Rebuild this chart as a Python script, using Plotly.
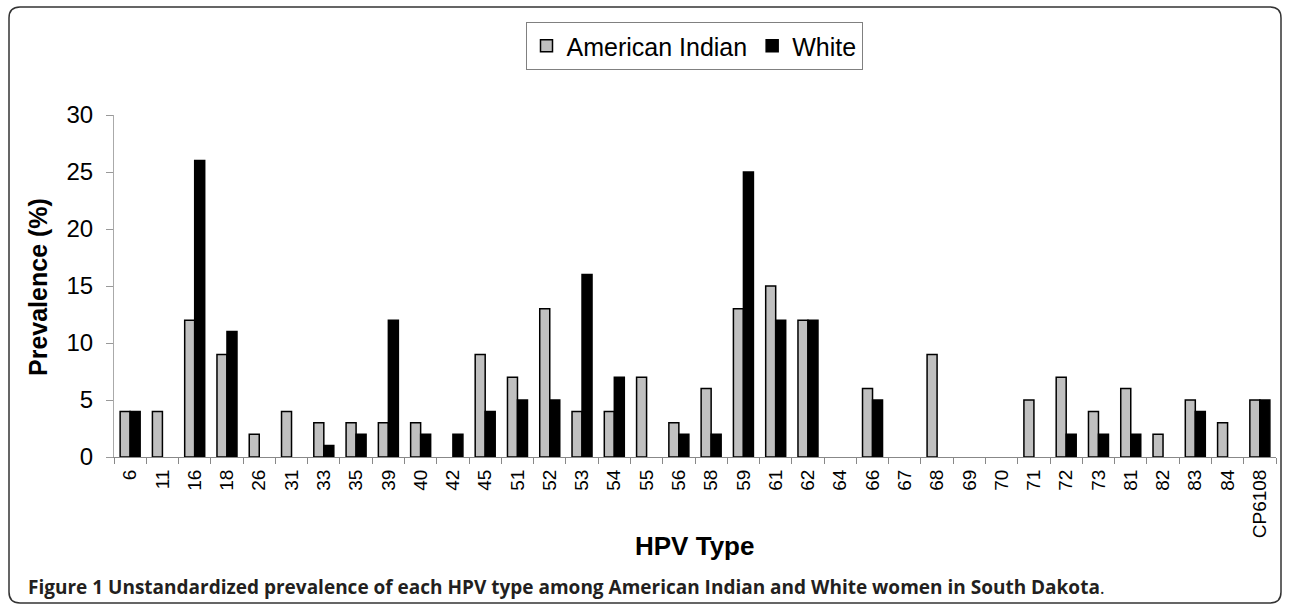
import plotly.graph_objects as go

hpv_types = ["6", "11", "16", "18", "26", "31", "33", "35", "39", "40", "42", "45",
             "51", "52", "53", "54", "55", "56", "58", "59", "61", "62", "64", "66",
             "67", "68", "69", "70", "71", "72", "73", "81", "82", "83", "84", "CP6108"]
american_indian = [4, 4, 12, 9, 2, 4, 3, 3, 3, 3, 0, 9,
                   7, 13, 4, 4, 7, 3, 6, 13, 15, 12, 0, 6,
                   0, 9, 0, 0, 5, 7, 4, 6, 2, 5, 3, 5]
white = [4, 0, 26, 11, 0, 0, 1, 2, 12, 2, 2, 4,
         5, 5, 16, 7, 0, 2, 2, 25, 12, 12, 0, 5,
         0, 0, 0, 0, 0, 2, 2, 2, 0, 4, 0, 5]
y_ticks = [0, 5, 10, 15, 20, 25, 30]

W, H = 1290, 606
ML, MR, MT, MB = 114, 14, 115, 149
PW, PH = W - ML - MR, H - MT - MB


def px(x):
    return (x - ML) / PW


def py(y):
    return (H - MB - y) / PH


def hide_zero(values):
    # zero-height bars are not drawn in the reference
    return [v if v else None for v in values]


fig = go.Figure()
fig.add_trace(go.Bar(x=hpv_types, y=hide_zero(american_indian), name="American Indian",
                     marker=dict(color="#c0c0c0", line=dict(color="#000000", width=1.5))))
fig.add_trace(go.Bar(x=hpv_types, y=hide_zero(white), name="White",
                     marker=dict(color="#000000", line=dict(color="#000000", width=1.5))))

# rounded frame
x0, x1, y0, y1, r = 9, 1281, 7, 603, 11
path = (f"M{px(x0 + r)},{py(y0)} L{px(x1 - r)},{py(y0)} Q{px(x1)},{py(y0)} {px(x1)},{py(y0 + r)} "
        f"L{px(x1)},{py(y1 - r)} Q{px(x1)},{py(y1)} {px(x1 - r)},{py(y1)} "
        f"L{px(x0 + r)},{py(y1)} Q{px(x0)},{py(y1)} {px(x0)},{py(y1 - r)} "
        f"L{px(x0)},{py(y0 + r)} Q{px(x0)},{py(y0)} {px(x0 + r)},{py(y0)} Z")

fig.update_layout(
    width=W, height=H,
    margin=dict(l=ML, r=MR, t=MT, b=MB, autoexpand=False),
    paper_bgcolor="white", plot_bgcolor="white",
    barmode="group", bargap=0.38, bargroupgap=0,
    font=dict(family="Liberation Sans, Arial, sans-serif", color="#000000"),
    showlegend=True,
    legend=dict(orientation="h", x=px(694), xanchor="center", y=py(22), yanchor="top",
                bordercolor="#808080", borderwidth=1, bgcolor="white",
                font=dict(size=25, family="Liberation Sans, Arial, sans-serif"),
                itemwidth=30, traceorder="normal"),
    xaxis=dict(type="category", showline=True, linecolor="#888888", linewidth=1,
               ticks="outside", tickson="boundaries", ticklen=6, tickcolor="#888888",
               tickangle=-90, tickfont=dict(size=19), showgrid=False, zeroline=False,
               ticklabelstandoff=4),
    yaxis=dict(range=[0, 30], tickvals=y_ticks, showline=True, linecolor="#aaaaaa",
               linewidth=1, ticks="outside", ticklen=7, tickcolor="#999999",
               tickfont=dict(size=24), showgrid=False, zeroline=False,
               ticklabelstandoff=8),
    shapes=[dict(type="path", xref="paper", yref="paper", path=path,
                 line=dict(color="#333333", width=1.5), layer="below")],
    annotations=[
        dict(text="<b>Prevalence (%)</b>", xref="paper", yref="paper", x=px(38), y=py(287),
             xanchor="center", yanchor="middle", textangle=-90, showarrow=False,
             font=dict(size=25, family="Liberation Sans, Arial, sans-serif")),
        dict(text="<b>HPV Type</b>", xref="paper", yref="paper", x=px(694), y=py(546),
             xanchor="center", yanchor="middle", showarrow=False,
             font=dict(size=26, family="Liberation Sans, Arial, sans-serif")),
        dict(text="<b>Figure 1 Unstandardized prevalence of each HPV type among American Indian "
                  "and White women in South Dakota</b>.",
             xref="paper", yref="paper", x=px(26), y=py(587), xanchor="left", yanchor="middle",
             showarrow=False,
             font=dict(size=19, family="Open Sans, sans-serif", color="#231f20")),
    ],
)

fig.write_html("out.html", config={"displayModeBar": False},
               post_script="document.body.style.margin='0';")
